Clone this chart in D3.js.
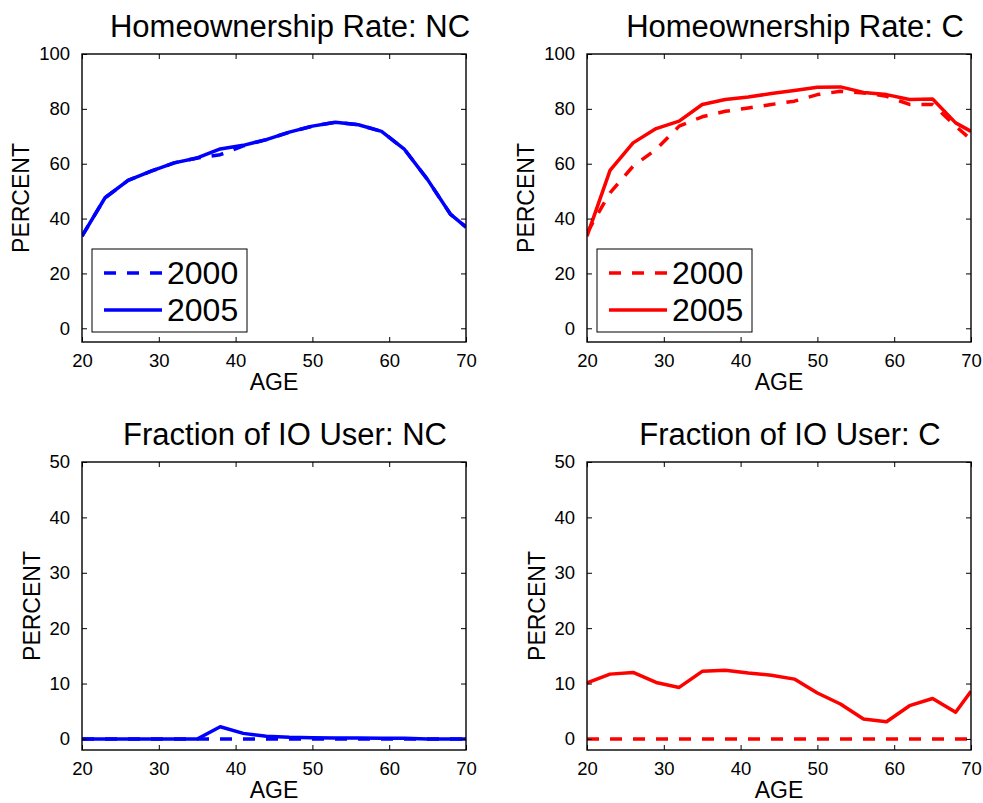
<!DOCTYPE html>
<html>
<head>
<meta charset="utf-8">
<script src="https://cdn.jsdelivr.net/npm/d3@7"></script>
<style>
  body { margin: 0; background: #fff; }
  svg { display: block; font-family: "Liberation Sans", Arial, Helvetica, sans-serif; }
</style>
</head>
<body>
<div id="fig"></div>
<script>
// ages on the x axis (every 3 years, last point at 70)
var ages = [20, 23, 26, 29, 32, 35, 38, 41, 44, 47, 50, 53, 56, 59, 62, 65, 68, 70];

// homeownership rate, percent
var homeNC2000 = [33.6, 47.6, 53.9, 57.3, 60.3, 62.1, 63.3, 66.5, 68.8, 71.5, 73.7, 75.1, 74.2, 71.8, 65.2, 54.2, 41.5, 36.9];
var homeNC2005 = [33.6, 47.6, 53.9, 57.3, 60.3, 62.1, 65.4, 66.7, 68.8, 71.5, 73.7, 75.1, 74.2, 71.8, 65.2, 54.2, 41.5, 36.9];
var homeC2000  = [34.8, 49.4, 59.1, 65.2, 73.7, 77.1, 79.1, 80.3, 81.6, 82.8, 85.2, 86.4, 85.8, 84.6, 81.6, 81.6, 73.7, 68.8];
var homeC2005  = [33.6, 57.6, 67.6, 72.8, 75.5, 81.6, 83.4, 84.3, 85.6, 86.7, 87.9, 88.0, 86.0, 85.2, 83.4, 83.6, 74.9, 71.8];

// fraction of IO users, percent
var ioNC2000 = [0, 0, 0, 0, 0, 0, 0, 0, 0, 0, 0, 0, 0, 0, 0, 0, 0, 0];
var ioNC2005 = [0, 0, 0, 0, 0, 0, 2.2, 1.0, 0.5, 0.3, 0.2, 0.15, 0.15, 0.1, 0.1, 0, 0, 0];
var ioC2000  = [0, 0, 0, 0, 0, 0, 0, 0, 0, 0, 0, 0, 0, 0, 0, 0, 0, 0];
var ioC2005  = [10.1, 11.7, 12.0, 10.2, 9.3, 12.2, 12.4, 11.9, 11.5, 10.8, 8.3, 6.3, 3.6, 3.1, 6.0, 7.3, 4.8, 8.6];

var seriesNames = ['2000', '2005'];
var xTicks = [20, 30, 40, 50, 60, 70];
var homeTicks = [0, 20, 40, 60, 80, 100];
var ioTicks = [0, 10, 20, 30, 40, 50];

var width = 983;
var height = 803;

var svg = d3.select('#fig').append('svg')
    .attr('width', width)
    .attr('height', height);

var panels = [
    {title: 'Homeownership Rate: NC', left: 82, top: 54, color: '#0000ff',
     series: [homeNC2000, homeNC2005], yDomain: [-5, 100], yTicks: homeTicks,
     legend: true, titleShift: 16, labelOffset: 53},
    {title: 'Homeownership Rate: C', left: 587, top: 54, color: '#ff0000',
     series: [homeC2000, homeC2005], yDomain: [-5, 100], yTicks: homeTicks,
     legend: true, titleShift: 16, labelOffset: 53},
    {title: 'Fraction of IO User: NC', left: 82, top: 462, color: '#0000ff',
     series: [ioNC2000, ioNC2005], yDomain: [-2, 50], yTicks: ioTicks,
     legend: false, titleShift: 11, labelOffset: 42},
    {title: 'Fraction of IO User: C', left: 587, top: 462, color: '#ff0000',
     series: [ioC2000, ioC2005], yDomain: [-2, 50], yTicks: ioTicks,
     legend: false, titleShift: 11, labelOffset: 42}
];

var plotW = 384;
var plotH = 288;
var dashes = ['12,11', null];

panels.forEach(function (p, i) {
    var g = svg.append('g').attr('transform', 'translate(' + p.left + ',' + p.top + ')');

    var x = d3.scaleLinear().domain([20, 70]).range([0, plotW]);
    var y = d3.scaleLinear().domain(p.yDomain).range([plotH, 0]);

    // clip lines to the axes box
    g.append('clipPath').attr('id', 'clip' + i)
        .append('rect').attr('width', plotW).attr('height', plotH);

    var line = d3.line()
        .x(function (d, j) { return x(ages[j]); })
        .y(function (d) { return y(d); });

    p.series.forEach(function (s, k) {
        g.append('path')
            .datum(s)
            .attr('clip-path', 'url(#clip' + i + ')')
            .attr('fill', 'none')
            .attr('stroke', p.color)
            .attr('stroke-width', 3.5)
            .attr('stroke-linejoin', 'round')
            .attr('stroke-dasharray', dashes[k])
            .attr('d', line);
    });

    // axes: ticks point inward on all four sides, labels only left/bottom
    var bottom = g.append('g').attr('transform', 'translate(0,' + plotH + ')')
        .call(d3.axisBottom(x).tickValues(xTicks).tickSizeInner(-5).tickSizeOuter(0).tickPadding(12));
    var left = g.append('g')
        .call(d3.axisLeft(y).tickValues(p.yTicks).tickSizeInner(-5).tickSizeOuter(0).tickPadding(12));
    var top = g.append('g')
        .call(d3.axisTop(x).tickValues(xTicks).tickSizeInner(-5).tickSizeOuter(0).tickFormat(''));
    var right = g.append('g').attr('transform', 'translate(' + plotW + ',0)')
        .call(d3.axisRight(y).tickValues(p.yTicks).tickSizeInner(-5).tickSizeOuter(0).tickFormat(''));

    [bottom, left, top, right].forEach(function (a) {
        a.select('.domain').remove();
        a.selectAll('line').attr('stroke', '#000').attr('stroke-width', 1);
        a.selectAll('text')
            .attr('fill', '#000')
            .style('font-family', '"Liberation Sans", Arial, sans-serif')
            .style('font-size', '18.5px');
    });

    g.append('rect')
        .attr('width', plotW)
        .attr('height', plotH)
        .attr('fill', 'none')
        .attr('stroke', '#000')
        .attr('stroke-width', 1.4);

    // titles and axis labels
    g.append('text')
        .attr('x', plotW / 2 + p.titleShift)
        .attr('y', -17)
        .attr('text-anchor', 'middle')
        .style('font-size', '31px')
        .text(p.title);

    g.append('text')
        .attr('x', plotW / 2)
        .attr('y', plotH + 48)
        .attr('text-anchor', 'middle')
        .style('font-size', '23px')
        .text('AGE');

    g.append('text')
        .attr('transform', 'translate(' + (-p.labelOffset) + ',' + (plotH / 2) + ') rotate(-90)')
        .attr('text-anchor', 'middle')
        .style('font-size', '23px')
        .text('PERCENT');

    if (p.legend) {
        var lg = g.append('g').attr('transform', 'translate(10,195)');
        lg.append('rect')
            .attr('width', 155)
            .attr('height', 83)
            .attr('fill', '#fff')
            .attr('stroke', '#000')
            .attr('stroke-width', 1);
        seriesNames.forEach(function (name, k) {
            var ly = 24 + k * 37;
            lg.append('line')
                .attr('x1', 12).attr('x2', 70)
                .attr('y1', ly).attr('y2', ly)
                .attr('stroke', p.color)
                .attr('stroke-width', 3.5)
                .attr('stroke-dasharray', dashes[k]);
            lg.append('text')
                .attr('x', 75)
                .attr('y', ly + 11)
                .style('font-size', '32px')
                .text(name);
        });
    }
});
</script>
</body>
</html>
